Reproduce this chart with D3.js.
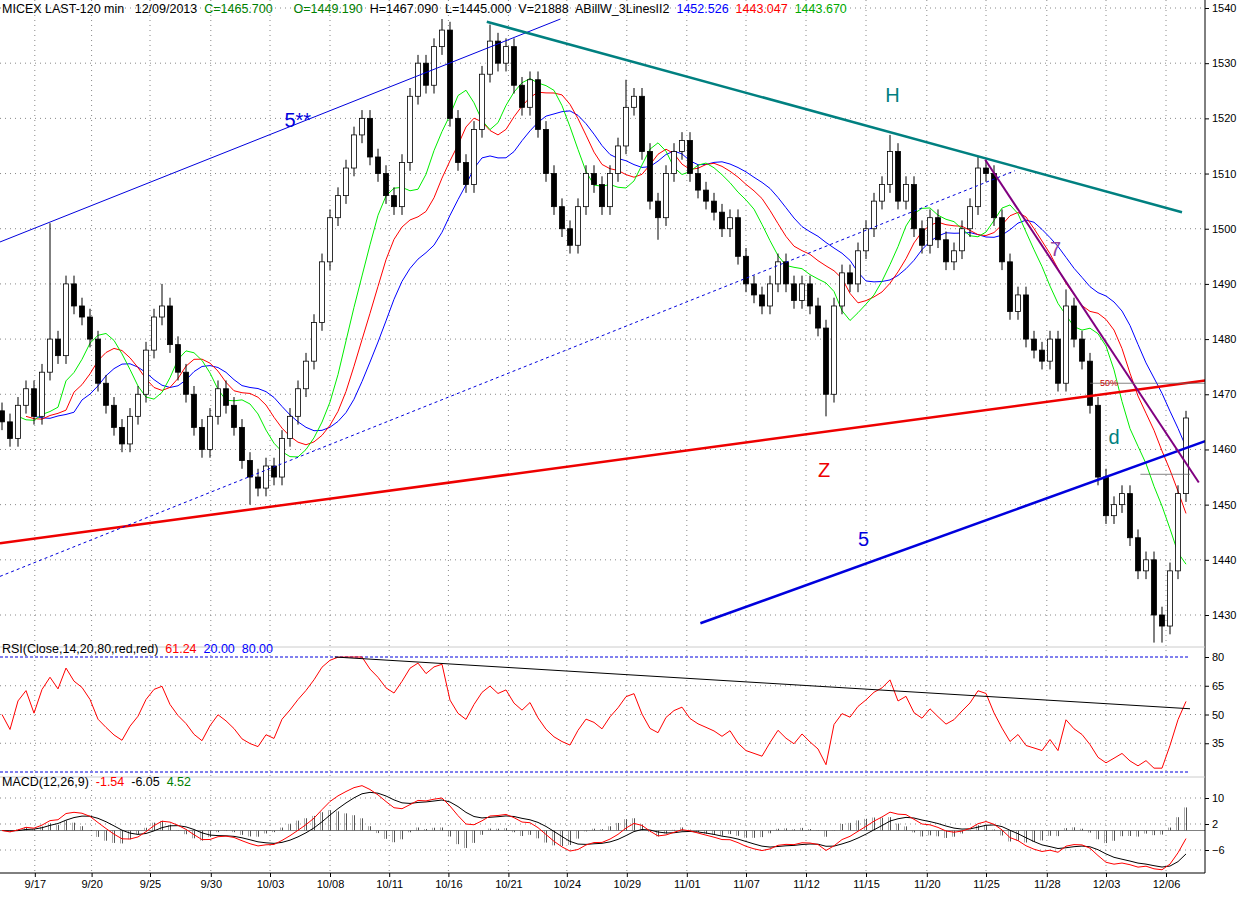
<!DOCTYPE html><html><head><meta charset="utf-8">
<script src="https://cdn.jsdelivr.net/npm/d3@7"></script>
<style>body{margin:0;background:#fff}svg text{font-family:"Liberation Sans",Arial,sans-serif}</style></head><body>
<svg id="c" width="1245" height="909"></svg>
<script>
const closes=[1465,1462,1468,1471,1466,1474,1480,1477,1490,1486,
1484,1480,1472,1468,1464,1461,1466,1470,1478,1484,
1486,1479,1474,1470,1464,1460,1466,1471,1468,1464,
1458,1455,1453,1457,1455,1462,1466,1471,1476,1483,
1494,1502,1506,1511,1517,1520,1513,1510,1506,1504,
1512,1524,1530,1526,1533,1536,1520,1512,1508,1518,
1528,1534,1530,1533,1526,1522,1527,1518,1510,1504,
1500,1497,1504,1510,1508,1504,1510,1515,1522,1524,
1514,1505,1502,1510,1514,1516,1510,1507,1505,1503,
1500,1502,1495,1490,1488,1486,1490,1494,1490,1487,
1490,1486,1482,1470,1486,1492,1490,1496,1500,1505,
1508,1514,1505,1508,1500,1497,1502,1498,1494,1496,
1500,1504,1511,1510,1502,1494,1485,1488,1480,1478,
1476,1480,1472,1486,1480,1476,1468,1455,1448,1450,
1452,1444,1438,1440,1430,1428,1438,1452,1465.7];
const firstOpen=1467;
const spikeHigh=[[6,1501],[20,1490],[55,1538],[61,1537],[78,1527],[111,1517],[122,1513],[133,1489],[148,1467]];
const spikeLow=[[103,1466],[31,1450],[144,1425],[145,1425],[82,1498]];
const dateLabels=["9/17","9/20","9/25","9/30","10/03","10/08","10/11","10/16","10/21","10/24","10/29","11/01","11/07","11/12","11/15","11/20","11/25","11/28","12/03","12/06"];
const dateIdx=[4.1,11.2,18.5,26.1,33.5,41,48.4,55.8,63.3,70.6,78.1,85.6,93,100.5,108,115.6,123,130.6,138,145.5];
const priceTicks=d3.range(1430,1541,10);
const rsiTicks=[80,65,50,35];
const macdTicks=[10,2,-6];
const trendLines=[[-0.25,1497.6,69.8,1538,"#0000dd",1,null],[60.6,1537.5,147.5,1503,"#008080",2.5,null],[-0.25,1443,150.4,1472.5,"#ee0000",2.5,null],[-0.25,1437,126.6,1510.5,"#0000dd",1,"3,3"],[87.3,1428.5,150.4,1461.5,"#0000dd",2.5,null],[122.9,1512.5,149.6,1454,"#800080",2,null],[136,1472,150.4,1472,"#666",0.8,null],[142.3,1455.5,148.5,1455.5,"#666",0.8,null]];
const labels=[[35.3,1518.5,"5**","#0000dd"],[110.4,1523,"H","#008080"],[102,1455,"Z","#ee0000"],[107,1442.5,"5","#0000dd"],[131,1495,"7","#9040a0"],[138.3,1461,"d","#008080"]];
const rsiLine=[41.6,80,148.5,53];
const svg=d3.select("#c");
const W=1205;
const x=d3.scaleLinear().domain([0,148]).range([2,1186]);
const y=d3.scaleLinear().domain([1430,1540]).range([615,8]);
const yR=d3.scaleLinear().domain([20,80]).range([772,657]);
const yM=d3.scaleLinear().domain([-6,10]).range([850,798]);
const data=closes.map((c,i)=>{const o=i?closes[i-1]:firstOpen;return {i,o,c,h:Math.max(o,c)+1.5,l:Math.min(o,c)-1.5};});
spikeHigh.forEach(([i,v])=>data[i].h=v);spikeLow.forEach(([i,v])=>data[i].l=v);
function smma(p){const r=[];let s=null;data.forEach((d,i)=>{const m=(d.h+d.l)/2;s=s==null?m:(s*(p-1)+m)/p;r.push(s);});return r;}
function ema(arr,p){const k=2/(p+1);const r=[];arr.forEach((v,i)=>r.push(i?v*k+r[i-1]*(1-k):v));return r;}
const g=svg.append("g");
dateIdx.forEach(d=>g.append("line").attr("x1",x(d)).attr("x2",x(d)).attr("y1",0).attr("y2",873).attr("stroke","#888").attr("stroke-dasharray","1,4"));
priceTicks.forEach(t=>g.append("line").attr("x1",0).attr("x2",W).attr("y1",y(t)).attr("y2",y(t)).attr("stroke","#888").attr("stroke-dasharray","1,4"));
rsiTicks.slice(1).forEach(t=>g.append("line").attr("x1",0).attr("x2",W).attr("y1",yR(t)).attr("y2",yR(t)).attr("stroke","#888").attr("stroke-dasharray","1,4"));
[20,80].forEach(t=>g.append("line").attr("x1",0).attr("x2",W-15).attr("y1",yR(t)).attr("y2",yR(t)).attr("stroke","#0000dd").attr("stroke-dasharray","3,2"));
macdTicks.forEach(t=>g.append("line").attr("x1",0).attr("x2",W).attr("y1",yM(t)).attr("y2",yM(t)).attr("stroke","#888").attr("stroke-dasharray","1,4"));
const lines=[[smma(9),"#0000ff",4],[smma(6),"#ff0000",3],[smma(4),"#00ee00",2]];
lines.forEach(([arr,col,sh])=>{svg.append("path").attr("fill","none").attr("stroke",col).attr("stroke-width",1)
 .attr("d",d3.line().x((v,i)=>x(i+sh)).y(v=>y(v))(arr.filter((v,i)=>i+sh<=148)));});
const cg=svg.append("g");
data.forEach(d=>{cg.append("line").attr("x1",x(d.i)).attr("x2",x(d.i)).attr("y1",y(d.h)).attr("y2",y(d.l)).attr("stroke","#000");
 const top=y(Math.max(d.o,d.c)),bot=y(Math.min(d.o,d.c));
 cg.append("rect").attr("x",x(d.i)-2.5).attr("y",top).attr("width",5).attr("height",Math.max(1,bot-top)).attr("fill",d.c>=d.o?"#fff":"#000").attr("stroke","#000").attr("stroke-width",0.8);});
trendLines.forEach(([a,b,c,d,col,w,da])=>svg.append("line").attr("x1",x(a)).attr("y1",y(b)).attr("x2",x(c)).attr("y2",y(d)).attr("stroke",col).attr("stroke-width",w).attr("stroke-dasharray",da));
labels.forEach(([i,v,t,col])=>svg.append("text").attr("x",x(i)).attr("y",y(v)).attr("fill",col).attr("font-size",20).text(t));
svg.append("text").attr("x",1100).attr("y",386).attr("font-size",9).attr("fill","#c00").text("50%");
const gains=[],losses=[];closes.forEach((c,i)=>{const d=i?c-closes[i-1]:0;gains.push(Math.max(d,0));losses.push(Math.max(-d,0));});
let ag=1,al=1;const rsi=[];const P=10;
closes.forEach((c,i)=>{ag=(ag*(P-1)+gains[i])/P;al=(al*(P-1)+losses[i])/P;rsi.push(100-100/(1+ag/al));});
svg.append("path").attr("fill","none").attr("stroke","#ff0000").attr("d",d3.line().x((v,i)=>x(i)).y(v=>yR(Math.max(22,Math.min(80,v))))(rsi));
svg.append("line").attr("x1",x(rsiLine[0])).attr("y1",yR(rsiLine[1])).attr("x2",x(rsiLine[2])).attr("y2",yR(rsiLine[3])).attr("stroke","#000");
const e1=ema(closes,6),e2=ema(closes,13);const macd=e1.map((v,i)=>v-e2[i]);const sig=ema(macd,5);
svg.append("line").attr("x1",0).attr("x2",W).attr("y1",yM(0)).attr("y2",yM(0)).attr("stroke","#000").attr("stroke-width",0.5);
const defs=svg.append("defs");const pat=defs.append("pattern").attr("id","hatch").attr("width",2).attr("height",2).attr("patternUnits","userSpaceOnUse");
pat.append("rect").attr("width",1).attr("height",2).attr("fill","#555");
macd.forEach((v,i)=>{const h=v-sig[i];svg.append("rect").attr("x",x(i)-1.5).attr("width",3).attr("y",Math.min(yM(0),yM(h*1.5))).attr("height",Math.abs(yM(h*1.5)-yM(0))).attr("fill","url(#hatch)");});
svg.append("path").attr("fill","none").attr("stroke","#000").attr("d",d3.line().x((v,i)=>x(i)).y(v=>yM(v))(sig));
svg.append("path").attr("fill","none").attr("stroke","#ff0000").attr("d",d3.line().x((v,i)=>x(i)).y(v=>yM(v))(macd));
svg.append("rect").attr("x",W).attr("y",0).attr("width",40).attr("height",909).attr("fill","#fff");
svg.append("rect").attr("x",0).attr("y",873).attr("width",1245).attr("height",36).attr("fill","#fff");
svg.append("line").attr("x1",W).attr("x2",W).attr("y1",0).attr("y2",873).attr("stroke","#000");
svg.append("line").attr("x1",0).attr("x2",W).attr("y1",873).attr("y2",873).attr("stroke","#000");
svg.append("line").attr("x1",0).attr("x2",W).attr("y1",647).attr("y2",647).attr("stroke","#ccc");
svg.append("line").attr("x1",0).attr("x2",W).attr("y1",777).attr("y2",777).attr("stroke","#ccc");
const fmt=d3.format("d");
[[y,priceTicks],[yR,rsiTicks],[yM,macdTicks]].forEach(([s,tv])=>svg.append("g").attr("transform",`translate(${W},0)`).call(d3.axisRight(s).tickValues(tv).tickFormat(fmt).tickSize(4)).call(a=>a.select(".domain").remove()));
svg.selectAll(".tick text").attr("font-size",11).attr("font-family","Liberation Sans");
const xa=svg.append("g").attr("transform","translate(0,873)").call(d3.axisBottom(x).tickValues(dateIdx).tickFormat((d,i)=>dateLabels[i]).tickSize(4));
xa.select(".domain").remove();xa.selectAll("text").attr("font-size",11).attr("font-family","Liberation Sans").attr("dy",8);
function hdr(yy,parts){const t=svg.append("text").attr("x",2).attr("y",yy).attr("font-size",12.5).attr("xml:space","preserve").style("white-space","pre");parts.forEach(([s,c])=>t.append("tspan").attr("fill",c).text(s));}
hdr(13,[["MICEX LAST-120 min   12/09/2013  ","#000"],["C=1465.700","#008000"],["      O=1449.190  ","#008000"],["H=1467.090  L=1445.000  V=21888  ABillW_3LinesII2  ","#000"],["1452.526  ","#0000ff"],["1443.047  ","#ff0000"],["1443.670","#00aa00"]]);
hdr(653,[["RSI(Close,14,20,80,red,red)  ","#000"],["61.24  ","#ff0000"],["20.00  80.00","#0000ff"]]);
hdr(786,[["MACD(12,26,9)  ","#000"],["-1.54  ","#ff0000"],["-6.05  ","#000"],["4.52","#008000"]]);
</script></body></html>
